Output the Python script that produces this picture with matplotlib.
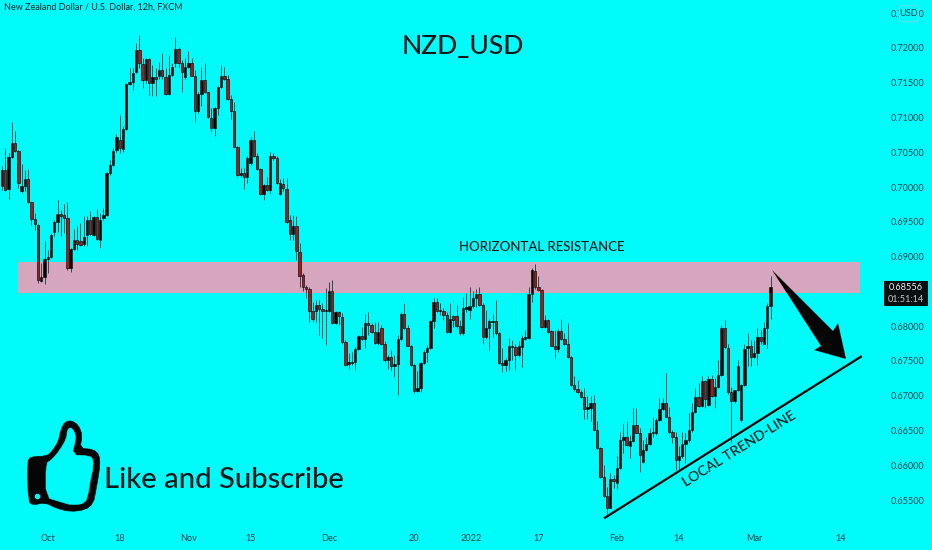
import numpy as np
import matplotlib.pyplot as plt
from matplotlib.patches import Polygon, Rectangle, FancyBboxPatch

# OHLC de 12h (em 1/10000)
opens = np.array([
    7002, 7025, 6997, 7043, 7063, 7052, 6994, 7001, 7011, 6978,
    6954, 6946, 6865, 6871, 6896, 6899, 6935, 6950, 6961, 6960,
    6955, 6883, 6911, 6924, 6923, 6918, 6931, 6952, 6931, 6957,
    6924, 6955, 6960, 7020, 7032, 7053, 7067, 7055, 7083, 7148,
    7151, 7165, 7197, 7177, 7154, 7184, 7149, 7158, 7159, 7168,
    7158, 7134, 7161, 7179, 7199, 7179, 7158, 7173, 7178, 7160,
    7109, 7134, 7154, 7136, 7100, 7085, 7113, 7144, 7160, 7155,
    7127, 7110, 7058, 7017, 7020, 7014, 7034, 7067, 7045, 7026,
    6990, 7003, 6996, 7045, 7042, 6990, 7005, 6997, 6952, 6932,
    6944, 6907, 6874, 6857, 6854, 6822, 6822, 6830, 6825, 6822,
    6822, 6850, 6804, 6820, 6813, 6777, 6745, 6749, 6749, 6767,
    6786, 6781, 6804, 6802, 6792, 6776, 6798, 6775, 6751, 6755,
    6742, 6745, 6782, 6818, 6798, 6772, 6744, 6707, 6711, 6747,
    6763, 6768, 6807, 6835, 6822, 6822, 6816, 6791, 6814, 6814,
    6800, 6790, 6825, 6823, 6829, 6840, 6846, 6831, 6784, 6797,
    6806, 6808, 6790, 6747, 6744, 6751, 6770, 6770, 6759, 6770,
    6782, 6783, 6846, 6880, 6857, 6852, 6799, 6809, 6793, 6772,
    6767, 6793, 6781, 6774, 6755, 6716, 6710, 6705, 6698, 6681,
    6683, 6689, 6650, 6625, 6583, 6556, 6539, 6580, 6575, 6596,
    6636, 6641, 6628, 6635, 6658, 6647, 6605, 6622, 6630, 6648,
    6647, 6665, 6681, 6690, 6670, 6648, 6641, 6607, 6613, 6630,
    6636, 6650, 6676, 6698, 6685, 6721, 6687, 6724, 6699, 6712,
    6730, 6797, 6768, 6705, 6693, 6708, 6665, 6716, 6769, 6771,
    6755, 6761, 6785, 6775, 6798, 6829]) / 1e4
highs = np.array([
    7030, 7056, 7049, 7093, 7080, 7053, 7033, 7025, 7026, 6979,
    6962, 6947, 6891, 6922, 6910, 6934, 6953, 6981, 6967, 6976,
    6979, 6912, 6939, 6944, 6948, 6959, 6958, 6965, 6958, 6968,
    6962, 6970, 7021, 7039, 7056, 7077, 7104, 7088, 7149, 7171,
    7171, 7207, 7218, 7185, 7185, 7185, 7176, 7171, 7180, 7193,
    7171, 7190, 7178, 7216, 7201, 7183, 7185, 7196, 7185, 7168,
    7136, 7173, 7178, 7137, 7113, 7115, 7145, 7176, 7173, 7161,
    7133, 7123, 7059, 7027, 7027, 7044, 7072, 7080, 7049, 7027,
    7005, 7015, 7051, 7049, 7045, 7011, 7013, 7013, 6960, 6960,
    6958, 6919, 6876, 6859, 6857, 6835, 6838, 6838, 6833, 6855,
    6864, 6867, 6822, 6822, 6819, 6780, 6761, 6763, 6770, 6788,
    6799, 6818, 6821, 6804, 6806, 6806, 6802, 6778, 6759, 6766,
    6759, 6787, 6821, 6833, 6802, 6773, 6746, 6735, 6749, 6765,
    6773, 6809, 6840, 6841, 6833, 6826, 6821, 6833, 6816, 6830,
    6809, 6842, 6847, 6857, 6850, 6853, 6856, 6833, 6823, 6811,
    6818, 6837, 6792, 6768, 6754, 6783, 6780, 6775, 6778, 6787,
    6795, 6857, 6883, 6890, 6872, 6854, 6816, 6811, 6795, 6795,
    6796, 6811, 6790, 6805, 6757, 6728, 6723, 6708, 6711, 6699,
    6699, 6701, 6663, 6626, 6601, 6569, 6589, 6586, 6613, 6648,
    6660, 6663, 6644, 6682, 6683, 6653, 6636, 6641, 6653, 6670,
    6668, 6696, 6696, 6732, 6684, 6651, 6648, 6627, 6648, 6646,
    6675, 6689, 6711, 6718, 6728, 6723, 6728, 6730, 6725, 6751,
    6802, 6809, 6774, 6713, 6708, 6751, 6717, 6775, 6790, 6780,
    6780, 6798, 6794, 6806, 6833, 6872]) / 1e4
lows = np.array([
    6996, 6994, 6983, 7042, 7051, 6998, 6992, 6994, 6977, 6946,
    6938, 6862, 6863, 6860, 6876, 6898, 6929, 6936, 6929, 6934,
    6881, 6878, 6910, 6910, 6915, 6915, 6915, 6931, 6929, 6924,
    6913, 6953, 6958, 7018, 7030, 7051, 7049, 7050, 7082, 7147,
    7140, 7164, 7171, 7142, 7149, 7132, 7131, 7131, 7156, 7156,
    7133, 7133, 7159, 7173, 7173, 7136, 7156, 7171, 7159, 7094,
    7106, 7116, 7135, 7100, 7080, 7074, 7104, 7142, 7154, 7125,
    7098, 7057, 7015, 7015, 6997, 7006, 7032, 7043, 7025, 6989,
    6981, 6994, 6992, 7039, 7005, 6989, 6994, 6949, 6924, 6924,
    6895, 6857, 6850, 6840, 6806, 6806, 6806, 6787, 6783, 6773,
    6821, 6803, 6803, 6802, 6775, 6743, 6739, 6744, 6737, 6766,
    6780, 6768, 6787, 6790, 6774, 6773, 6773, 6749, 6739, 6735,
    6727, 6701, 6780, 6796, 6771, 6743, 6704, 6705, 6705, 6746,
    6749, 6767, 6797, 6821, 6816, 6809, 6790, 6790, 6799, 6798,
    6788, 6788, 6821, 6811, 6826, 6828, 6829, 6775, 6782, 6766,
    6785, 6787, 6745, 6734, 6736, 6737, 6751, 6737, 6756, 6741,
    6780, 6782, 6835, 6854, 6850, 6798, 6797, 6790, 6771, 6754,
    6763, 6780, 6773, 6754, 6714, 6707, 6704, 6696, 6666, 6666,
    6663, 6650, 6623, 6581, 6555, 6529, 6538, 6567, 6566, 6594,
    6617, 6627, 6610, 6634, 6646, 6591, 6603, 6621, 6629, 6641,
    6644, 6664, 6680, 6669, 6647, 6632, 6593, 6593, 6610, 6603,
    6634, 6648, 6675, 6684, 6684, 6682, 6685, 6698, 6682, 6711,
    6728, 6768, 6703, 6632, 6690, 6707, 6664, 6714, 6742, 6742,
    6754, 6744, 6775, 6774, 6768, 6810]) / 1e4
closes = np.array([
    7025, 6996, 7043, 7063, 7052, 7006, 7001, 7011, 6978, 6954,
    6947, 6866, 6871, 6896, 6899, 6931, 6950, 6961, 6958, 6955,
    6883, 6911, 6924, 6918, 6917, 6928, 6952, 6933, 6957, 6925,
    6953, 6960, 7020, 7032, 7052, 7072, 7056, 7083, 7148, 7151,
    7164, 7197, 7178, 7154, 7184, 7149, 7158, 7156, 7168, 7159,
    7134, 7161, 7173, 7199, 7179, 7166, 7173, 7178, 7160, 7109,
    7134, 7154, 7136, 7101, 7085, 7113, 7144, 7160, 7155, 7127,
    7110, 7058, 7017, 7020, 7014, 7042, 7067, 7045, 7026, 6990,
    7003, 6996, 7045, 7042, 7006, 7006, 6998, 6950, 6932, 6944,
    6908, 6872, 6857, 6853, 6822, 6811, 6830, 6825, 6822, 6823,
    6850, 6804, 6821, 6814, 6777, 6744, 6748, 6747, 6767, 6786,
    6781, 6804, 6802, 6792, 6776, 6792, 6775, 6751, 6755, 6742,
    6745, 6782, 6818, 6798, 6772, 6744, 6707, 6711, 6747, 6763,
    6768, 6807, 6835, 6822, 6823, 6816, 6791, 6810, 6809, 6800,
    6790, 6826, 6827, 6829, 6840, 6846, 6830, 6784, 6797, 6807,
    6808, 6790, 6747, 6744, 6751, 6772, 6772, 6759, 6772, 6783,
    6784, 6846, 6881, 6857, 6852, 6799, 6809, 6792, 6772, 6767,
    6793, 6781, 6774, 6755, 6716, 6710, 6705, 6698, 6681, 6684,
    6689, 6651, 6625, 6583, 6556, 6539, 6580, 6577, 6596, 6636,
    6641, 6629, 6635, 6658, 6647, 6615, 6622, 6630, 6647, 6646,
    6665, 6681, 6690, 6670, 6648, 6641, 6608, 6613, 6630, 6637,
    6650, 6676, 6698, 6685, 6721, 6695, 6724, 6699, 6712, 6730,
    6797, 6770, 6705, 6693, 6708, 6742, 6716, 6767, 6771, 6755,
    6761, 6785, 6778, 6798, 6829, 6856]) / 1e4

date_ticks = [14, 36, 57, 76, 100, 126, 143.5, 164, 188, 207, 230, 256.5]
date_labels = ['Oct', '18', 'Nov', '15', 'Dec', '20', '2022', '17', 'Feb', '14', 'Mar', '14']
price_ticks = [0.655, 0.66, 0.665, 0.67, 0.675, 0.68, 0.69,
               0.695, 0.70, 0.705, 0.71, 0.715, 0.72, 0.725]

zone_low, zone_high = 0.68482, 0.68928
trend_x = [184.4, 262.6]
trend_y = [0.65246, 0.6756]

BG = '#00fbfb'
INK = '#0b2228'
AXIS_TXT = '#164650'
plt.rcParams['font.family'] = ['Lato', 'DejaVu Sans']


# Arredonda os cantos de um poligono (Chaikin)
def suaviza(pts):
    prox = np.roll(pts, -1, axis=0)
    lisa = np.empty((len(pts) * 2, 2))
    lisa[0::2] = 0.75 * pts + 0.25 * prox
    lisa[1::2] = 0.25 * pts + 0.75 * prox
    return lisa


fig = plt.figure(figsize=(9.32, 5.5), dpi=100, facecolor=BG)
ax = fig.add_axes([0, 23 / 550, 884 / 932, 527 / 550], facecolor=BG)

x = np.arange(len(opens))
up = closes >= opens
bottoms = np.minimum(opens, closes)
heights = np.abs(closes - opens)

# Zona de resistencia fica atras dos candles
ax.add_patch(Rectangle((4.9, zone_low), 257.5, zone_high - zone_low,
                       facecolor='#d6a6bf', edgecolor='none', zorder=1))
ax.vlines(x, lows, highs, color='#123a3c', linewidth=0.6, zorder=2)
ax.bar(x[up], heights[up], bottom=bottoms[up], width=0.72,
       color='#050505', edgecolor='#050505', linewidth=0.4, zorder=3)
ax.bar(x[~up], heights[~up], bottom=bottoms[~up], width=0.72,
       color='#a81a1a', edgecolor='#181010', linewidth=0.5, zorder=3)
ax.plot(trend_x, trend_y, color='#050505', linewidth=1.6, zorder=4)

ax.set_xlim(-0.61, 269.7)
ax.set_ylim(0.65112, 0.7269)
ax.set_xticks(date_ticks)
ax.set_xticklabels(date_labels)
ax.set_yticks(price_ticks)
ax.set_yticklabels([f'{p:.5f}' for p in price_ticks])
ax.yaxis.tick_right()
ax.tick_params(axis='both', length=0, labelsize=6.6, colors=AXIS_TXT)
ax.tick_params(axis='x', pad=5)
ax.tick_params(axis='y', pad=5)
for s in ax.spines.values():
    s.set_visible(False)

# Camada em pixels para os desenhos feitos a mao
ov = fig.add_axes([0, 0, 1, 1], facecolor='none')
ov.set_xlim(0, 932)
ov.set_ylim(550, 0)
ov.axis('off')

ov.text(4, 7, 'New Zealand Dollar / U.S. Dollar, 12h, FXCM', fontsize=6.5,
        color=INK, va='center', ha='left')
ov.text(463, 47, 'NZD_USD', fontsize=19, color='#101a1c', va='center', ha='center',
        fontweight='medium')
ov.text(542, 247, 'HORIZONTAL RESISTANCE', fontsize=9.5, color='#101a1c',
        va='center', ha='center', fontweight='medium')
ov.text(739, 449, 'LOCAL TREND-LINE', fontsize=10.2, color='#101a1c', va='center',
        ha='center', rotation=32, rotation_mode='anchor', fontweight='medium')
ov.text(224, 480, 'Like and Subscribe', fontsize=21, color='#101a1c',
        va='center', ha='center', fontweight='medium')

# Seta para baixo
ov.add_patch(Polygon([(772, 270), (833, 331), (838, 323), (846, 359), (814, 350), (821, 346)],
                     closed=True, facecolor='#050505', edgecolor='none', zorder=5))

# Caixa do preco atual
ov.add_patch(Rectangle((884, 281), 44, 25, facecolor='#0a0f12', edgecolor='none'))
ov.text(906, 288, '0.68556', fontsize=6.6, color='#f0f0f0', va='center', ha='center')
ov.text(906, 299, '01:51:14', fontsize=6.6, color='#c8c8c8', va='center', ha='center')

# Caixa USD
ov.add_patch(FancyBboxPatch((901, 7), 16, 13, boxstyle='round,pad=1.5,rounding_size=3',
                            facecolor=BG, edgecolor='#45e6f0', linewidth=1))
ov.text(909, 13.5, 'USD', fontsize=6.6, color=AXIS_TXT, va='center', ha='center',
        zorder=6)

# Polegar (unidades do recorte, 3x)
hand_outer = np.array([(52, 155), (62, 140), (110, 138), (125, 125), (145, 95), (152, 60),
                       (165, 35), (185, 32), (205, 45), (217, 75), (210, 115), (250, 118),
                       (268, 135), (270, 165), (265, 200), (258, 240), (250, 280), (225, 300),
                       (180, 305), (140, 295), (105, 278), (70, 285), (55, 275)], dtype=float)
hand_inner = np.array([(108, 160), (125, 150), (150, 120), (170, 85), (172, 60), (182, 52),
                       (193, 65), (198, 85), (185, 135), (240, 138), (250, 150), (248, 180),
                       (240, 215), (235, 250), (225, 280), (185, 285), (150, 275),
                       (108, 262)], dtype=float)
for pts, col in ((hand_outer, '#050505'), (hand_inner, BG)):
    lisa = suaviza(pts)
    ov.add_patch(Polygon(np.c_[10 + lisa[:, 0] / 3, 410 + lisa[:, 1] / 3], closed=True,
                         facecolor=col, edgecolor=col, linewidth=0.4, zorder=5))
ov.scatter([36.7], [495.7], s=9, color=BG, zorder=6)

fig.savefig('out.png', dpi=100, facecolor=BG)
